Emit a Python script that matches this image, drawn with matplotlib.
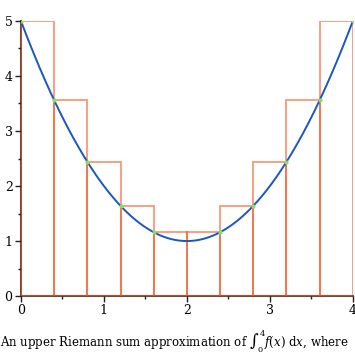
import numpy as np
import matplotlib.pyplot as plt

# f(x) = x^2 - 4x + 5 on [0, 4]
curve_coeffs = [1, -4, 5]
x_left = [0.0, 0.4, 0.8, 1.2, 1.6, 2.0, 2.4, 2.8, 3.2, 3.6]
heights = [5.0, 3.56, 2.44, 1.64, 1.16, 1.16, 1.64, 2.44, 3.56, 5.0]
dot_x = [0.0, 0.4, 0.8, 1.2, 1.6, 2.4, 2.8, 3.2, 3.6, 4.0]
dot_y = [5.0, 3.56, 2.44, 1.64, 1.16, 1.16, 1.64, 2.44, 3.56, 5.0]
caption = r"An upper Riemann sum approximation of $\int_0^4 f(x)\ \mathrm{d}x$, where"

plt.rcParams['font.family'] = ['DejaVu Serif']
plt.rcParams['mathtext.fontset'] = 'dejavuserif'

fig = plt.figure(figsize=(3.55, 3.55), dpi=100)
ax = fig.add_axes([0.059, 0.166, 0.935, 0.775])

ax.bar(x_left, heights, width=0.4, align='edge', fill=False,
       edgecolor='#f4511e', alpha=0.55, linewidth=1.4, zorder=2)

xs = np.linspace(0, 4, 300)
ax.plot(xs, np.polyval(curve_coeffs, xs), color='#1a56c4', lw=1.4, zorder=3)
ax.plot(dot_x, dot_y, 'o', color='#86e05c', ms=3, mec='none', zorder=4)

ax.set_xlim(0, 4)
ax.set_ylim(0, 5)
ax.set_xticks([0, 1, 2, 3, 4])
ax.set_yticks([0, 1, 2, 3, 4, 5])
ax.set_xticks(np.arange(0.5, 4, 1), minor=True)
ax.set_yticks(np.arange(0.5, 5, 1), minor=True)
ax.tick_params(which='major', length=4, width=1, labelsize=9, pad=2,
               color='#222222')
ax.tick_params(which='minor', length=2, width=1, color='#222222')

for s in ['top', 'right']:
    ax.spines[s].set_visible(False)
for s in ['left', 'bottom']:
    ax.spines[s].set_color('#6d4c41')
    ax.spines[s].set_linewidth(1.5)
    ax.spines[s].set_zorder(1)

fig.text(0.0, 0.04, caption, fontsize=8.5, ha='left', va='center')

fig.savefig('out.png', dpi=100)
